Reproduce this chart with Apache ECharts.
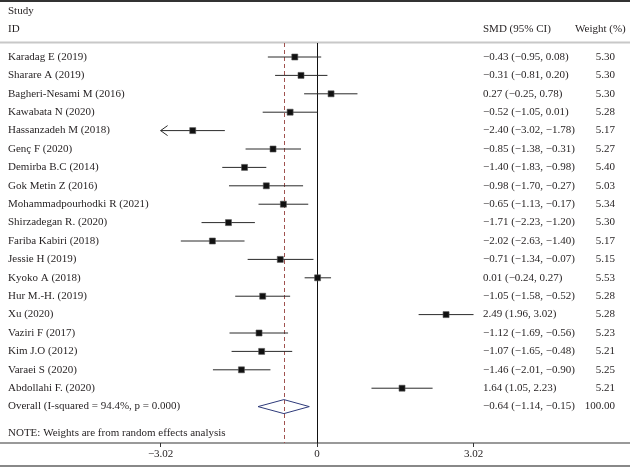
<!DOCTYPE html>
<html>
<head>
<meta charset="utf-8">
<script src="https://cdn.jsdelivr.net/npm/echarts@6/dist/echarts.min.js"></script>
<style>html,body{margin:0;padding:0;background:#fff}#c{width:630px;height:467px}</style>
</head>
<body>
<div id="c"></div>
<script>
const studies = ['Karadag E (2019)','Sharare A (2019)','Bagheri-Nesami M (2016)','Kawabata N (2020)','Hassanzadeh M (2018)','Genç F (2020)','Demirba B.C (2014)','Gok Metin Z (2016)','Mohammadpourhodki R (2021)','Shirzadegan R. (2020)','Fariba Kabiri (2018)','Jessie H (2019)','Kyoko A (2018)','Hur M.-H. (2019)','Xu (2020)','Vaziri F (2017)','Kim J.O (2012)','Varaei S (2020)','Abdollahi F. (2020)'];
const smd    = [-0.43,-0.31, 0.27,-0.52,-2.40,-0.85,-1.40,-0.98,-0.65,-1.71,-2.02,-0.71, 0.01,-1.05, 2.49,-1.12,-1.07,-1.46, 1.64];
const ciLow  = [-0.95,-0.81,-0.25,-1.05,-3.02,-1.38,-1.83,-1.70,-1.13,-2.23,-2.63,-1.34,-0.24,-1.58, 1.96,-1.69,-1.65,-2.01, 1.05];
const ciHigh = [ 0.08, 0.20, 0.78, 0.01,-1.78,-0.31,-0.98,-0.27,-0.17,-1.20,-1.40,-0.07, 0.27,-0.52, 3.02,-0.56,-0.48,-0.90, 2.23];
const weights= [5.30,5.30,5.30,5.28,5.17,5.27,5.40,5.03,5.34,5.30,5.17,5.15,5.53,5.28,5.28,5.23,5.21,5.25,5.21];
const arrowLeft = ['Hassanzadeh M (2018)'];
const overallLabel = 'Overall (I-squared = 94.4%, p = 0.000)';
const overallSmd = -0.64, overallLow = -1.14, overallHigh = -0.15, overallWeight = 100.00;
const xTicks = [-3.02, 0, 3.02];
const noteText = 'NOTE: Weights are from random effects analysis';

const FONT = '11px "Liberation Serif", "DejaVu Serif", serif';
const TXT = '#231f20';
const fmt = v => (v < 0 ? '\u2212' : '') + Math.abs(v).toFixed(2);
const ciText = (e, l, h) => fmt(e) + ' (' + fmt(l) + ', ' + fmt(h) + ')';

const studyData = studies.map((s, i) => [ciLow[i], ciHigh[i], smd[i], i, weights[i]]);
const overallRow = studies.length;

function textEl(text, x, y, align) {
  return { type: 'text', style: { text, x, y, font: FONT, fill: TXT, textAlign: align || 'left', textVerticalAlign: 'middle' } };
}

const chart = echarts.init(document.getElementById('c'), null, { renderer: 'canvas' });
chart.setOption({
  animation: false,
  grid: { left: 0, right: 0, top: 43, bottom: 24 },
  xAxis: {
    type: 'value', min: -6.12, max: 6.04,
    splitLine: { show: false },
    axisLine: { show: true, onZero: false, lineStyle: { color: '#777', width: 1.5 } },
    axisTick: { show: true, length: 4, customValues: xTicks, lineStyle: { color: '#333' } },
    axisLabel: { show: true, customValues: xTicks, formatter: v => (v === 0 ? '0' : fmt(v)), color: TXT, fontFamily: '"Liberation Serif", serif', fontSize: 11, margin: 6 }
  },
  yAxis: { type: 'value', inverse: true, min: -0.761, max: 20.978, show: false },
  graphic: [
    { type: 'line', shape: { x1: 0, y1: 1, x2: 630, y2: 1 }, style: { stroke: '#333', lineWidth: 2 } },
    { type: 'line', shape: { x1: 0, y1: 42.5, x2: 630, y2: 42.5 }, style: { stroke: '#c8c8c8', lineWidth: 2 } },
    { type: 'line', shape: { x1: 0, y1: 466, x2: 630, y2: 466 }, style: { stroke: '#888', lineWidth: 2 } },
    { type: 'text', left: 8, top: 6, style: { text: 'Study', font: FONT, fill: TXT } },
    { type: 'text', left: 8, top: 24, style: { text: 'ID', font: FONT, fill: TXT } },
    { type: 'text', left: 483, top: 24, style: { text: 'SMD (95% CI)', font: FONT, fill: TXT } },
    { type: 'text', left: 575, top: 24, style: { text: 'Weight (%)', font: FONT, fill: TXT } }
  ],
  series: [
    {
      type: 'custom', clip: false, z: 5,
      data: studyData,
      renderItem: function (params, api) {
        const lo = api.value(0), hi = api.value(1), est = api.value(2), row = api.value(3), w = api.value(4);
        const pLo = api.coord([lo, row]), pHi = api.coord([hi, row]), pE = api.coord([est, row]);
        const name = studies[row];
        const sz = 6;
        const kids = [
          { type: 'line', shape: { x1: pLo[0], y1: pLo[1], x2: pHi[0], y2: pHi[1] }, style: { stroke: '#2a2a2a', lineWidth: 1 } },
          { type: 'rect', shape: { x: pE[0] - sz / 2, y: pE[1] - sz / 2, width: sz, height: sz }, style: { fill: '#111', stroke: '#555', lineWidth: 0.6 } },
          textEl(name, 8, pE[1]),
          textEl(ciText(est, lo, hi), 483, pE[1]),
          textEl(w.toFixed(2), 615, pE[1], 'right')
        ];
        if (arrowLeft.indexOf(name) >= 0) {
          kids.push({ type: 'polyline', shape: { points: [[pLo[0] + 7, pLo[1] - 5], [pLo[0], pLo[1]], [pLo[0] + 7, pLo[1] + 5]] }, style: { stroke: '#2a2a2a', lineWidth: 1, fill: null } });
        }
        return { type: 'group', children: kids };
      },
      markLine: {
        silent: true, symbol: 'none', label: { show: false },
        data: [
          { xAxis: 0, lineStyle: { color: '#111', type: 'solid', width: 1 } },
          { xAxis: overallSmd, lineStyle: { color: '#a0524f', type: [4, 3], width: 1 } }
        ]
      }
    },
    {
      type: 'custom', clip: false, z: 6,
      data: [[overallLow, overallHigh, overallSmd, overallRow, overallWeight]],
      renderItem: function (params, api) {
        const lo = api.value(0), hi = api.value(1), est = api.value(2), row = api.value(3), w = api.value(4);
        const pLo = api.coord([lo, row]), pHi = api.coord([hi, row]), pE = api.coord([est, row]);
        const h = 7;
        return { type: 'group', children: [
          { type: 'polygon', shape: { points: [[pLo[0], pLo[1]], [pE[0], pE[1] - h], [pHi[0], pHi[1]], [pE[0], pE[1] + h]] }, style: { fill: null, stroke: '#2e3a7a', lineWidth: 1 } },
          textEl(overallLabel, 8, pE[1]),
          textEl(ciText(est, lo, hi), 483, pE[1]),
          textEl(w.toFixed(2), 615, pE[1], 'right'),
          textEl(noteText, 8, api.coord([0, row + 1.45])[1])
        ] };
      }
    }
  ]
});
</script>
</body>
</html>
